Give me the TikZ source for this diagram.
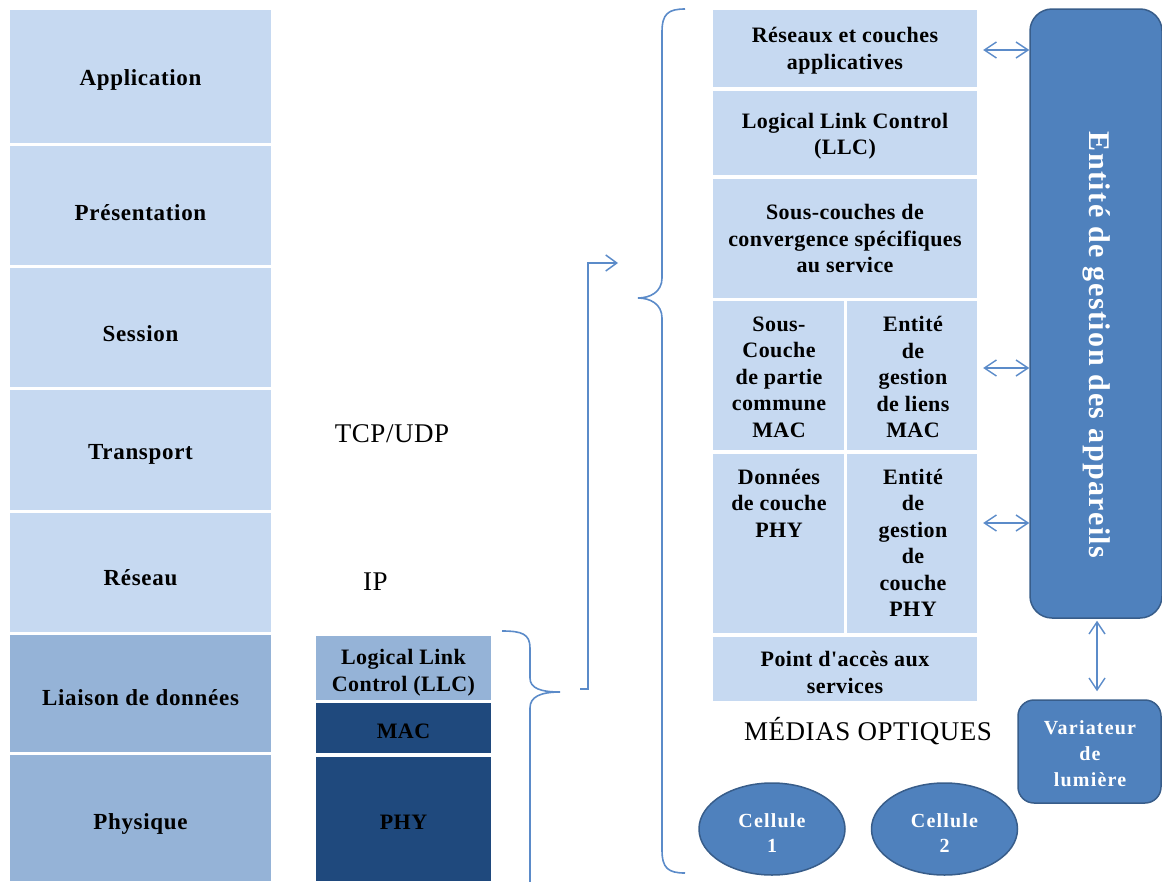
\documentclass[tikz,border=0pt]{standalone}
\usepackage{fontspec}
\setmainfont{Liberation Serif}
\newfontfamily\spfont[LetterSpace=6]{Liberation Serif}
\newfontfamily\spfontA[LetterSpace=3]{Liberation Serif}
\newfontfamily\spfontB[LetterSpace=2]{Liberation Serif}
\newfontfamily\spfontC[LetterSpace=5]{Liberation Serif}
\usetikzlibrary{shapes.geometric,arrows.meta}
\definecolor{lightb}{HTML}{C6D9F1}
\definecolor{midb}{HTML}{95B3D7}
\definecolor{darkb}{HTML}{1F497D}
\definecolor{boxb}{HTML}{4F81BD}
\definecolor{boxedge}{HTML}{385D8A}
\definecolor{linec}{HTML}{5B8BC9}
\begin{document}
\begin{tikzpicture}[x=1pt,y=-1pt,
  cellbox/.style={fill=lightb, draw=none, inner sep=0pt},
  ltext/.style={inner sep=0pt, align=center,
    font={\spfontA\bfseries\fontsize{23}{27}\selectfont}},
  rtext/.style={inner sep=0pt, align=center,
    font={\spfontB\bfseries\fontsize{22}{26.5}\selectfont}},
  bluebox/.style={fill=boxb, draw=boxedge, line width=1.5pt, inner sep=0pt,
    align=center, text=white, font={\spfont\bfseries\fontsize{20}{26}\selectfont}},
  plain/.style={inner sep=0pt, font={\spfontB\fontsize{27}{31}\selectfont}},
  dbl/.style={linec, line width=1.4pt,
    {Straight Barb[length=12pt,width=16pt]}-{Straight Barb[length=12pt,width=16pt]}},
  brace/.style={linec, line width=1.6pt}
]
\useasboundingbox (0,0) rectangle (1162,881);
\clip (0,0) rectangle (1162,881);
% left OSI column
\node[cellbox, minimum width=261pt, minimum height=133pt] (app) at (140.5,76.5) {};
\node[cellbox, minimum width=261pt, minimum height=119pt] (pres) at (140.5,205.5) {};
\node[cellbox, minimum width=261pt, minimum height=119pt] (sess) at (140.5,327.5) {};
\node[cellbox, minimum width=261pt, minimum height=120pt] (trans) at (140.5,450) {};
\node[cellbox, minimum width=261pt, minimum height=119pt] (res) at (140.5,572.5) {};
\node[cellbox, fill=midb, minimum width=261pt, minimum height=117pt] (liai) at (140.5,693.5) {};
\node[cellbox, fill=midb, minimum width=261pt, minimum height=126pt] (phys) at (140.5,818) {};
\node[ltext] (app-t) at (140.5,79.5) {Application};
\node[ltext] (pres-t) at (140.5,212.5) {Présentation};
\node[ltext] (sess-t) at (140.5,333.5) {Session};
\node[ltext] (trans-t) at (140.5,454.5) {Transport};
\node[ltext] (res-t) at (140.5,577.5) {Réseau};
\node[ltext] (liai-t) at (140.5,697.5) {Liaison de données};
\node[ltext] (phys-t) at (140.5,823.5) {Physique};
% middle column
\node[cellbox, fill=midb, minimum width=175pt, minimum height=64pt] (llc) at (403.5,668) {};
\node[cellbox, fill=darkb, minimum width=175pt, minimum height=50pt] (mac) at (403.5,728) {};
\node[cellbox, fill=darkb, minimum width=175pt, minimum height=124pt] (phy) at (403.5,819) {};
\node[rtext] (llc-t) at (403.5,672.5) {Logical Link\\Control (LLC)};
\node[rtext] (mac-t) at (403.5,731) {MAC};
\node[rtext] (phy-t) at (403.5,822) {PHY};
\node[plain] (tcp) at (392,434) {TCP/UDP};
\node[plain] (ip) at (375.5,582) {IP};
% right stack
\node[cellbox, minimum width=264pt, minimum height=77pt] (r1) at (845,48.5) {};
\node[cellbox, minimum width=264pt, minimum height=84pt] (r2) at (845,133) {};
\node[cellbox, minimum width=264pt, minimum height=119pt] (r3) at (845,238.5) {};
\node[cellbox, minimum width=131pt, minimum height=149pt] (r4a) at (778.5,375.5) {};
\node[cellbox, minimum width=130pt, minimum height=149pt] (r4b) at (912,375.5) {};
\node[cellbox, minimum width=131pt, minimum height=179pt] (r5a) at (778.5,543.5) {};
\node[cellbox, minimum width=130pt, minimum height=179pt] (r5b) at (912,543.5) {};
\node[cellbox, minimum width=264pt, minimum height=64pt] (r6) at (845,669) {};
\node[rtext] (r1-t) at (845,50.5) {Réseaux et couches\\applicatives};
\node[rtext] (r2-t) at (845,136) {Logical Link Control\\(LLC)};
\node[rtext] (r3-t) at (845,238.5) {Sous-couches de\\convergence spécifiques\\au service};
\node[rtext] (r4a-t) at (779,377) {Sous-\\Couche\\de partie\\commune\\MAC};
\node[rtext] (r4b-t) at (913,377) {Entité\\de\\gestion\\de liens\\MAC};
\node[rtext, anchor=north] (r5a-t) at (779,469) {Données\\de couche\\PHY};
\node[rtext, anchor=north] (r5b-t) at (913,469) {Entité\\de\\gestion\\de\\couche\\PHY};
\node[rtext] (r6-t) at (845,672.5) {Point d'accès aux\\services};
\node[plain] (med) at (868,731) {MÉDIAS OPTIQUES};
% management entity and dimmer
\node[bluebox, minimum width=132pt, minimum height=609pt, rounded corners=22pt] (ent) at (1096,313.5) {};
\node[rotate=-90, inner sep=0pt, text=white,
  font={\spfontC\bfseries\fontsize{30}{34}\selectfont}] (entt) at (1097,345) {Entité de gestion des appareils};
\node[bluebox, minimum width=143pt, minimum height=103pt, rounded corners=16pt] (var) at (1089.5,751.5) {};
\node[inner sep=0pt, align=center, text=white,
  font={\spfont\bfseries\fontsize{20}{26}\selectfont}] (var-t) at (1090,753.5) {Variateur\\de\\lumière};
% cells
\node[bluebox, ellipse, minimum width=146pt, minimum height=92pt] (c1) at (772,829) {};
\node[bluebox, ellipse, minimum width=146pt, minimum height=92pt] (c2) at (944.5,829) {};
\node[inner sep=0pt, align=center, text=white,
  font={\spfont\bfseries\fontsize{20}{25}\selectfont}] (c1-t) at (772,833.5) {Cellule\\1};
\node[inner sep=0pt, align=center, text=white,
  font={\spfont\bfseries\fontsize{20}{25}\selectfont}] (c2-t) at (944.5,833.5) {Cellule\\2};
% double arrows
\draw[dbl] ([xshift=6pt,yshift=-1.5pt]r1.east) -- ([yshift=-1.5pt]r1.east -| ent.west);
\draw[dbl] ([xshift=6pt,yshift=7.5pt]r4b.east) -- ([yshift=7.5pt]r4b.east -| ent.west);
\draw[dbl] ([xshift=6pt,yshift=20.5pt]r5b.east) -- ([yshift=20.5pt]r5b.east -| ent.west);
\draw[dbl] ([xshift=1pt,yshift=-2pt]ent.south) -- ([xshift=7.5pt,yshift=8pt]var.north);
% braces
\draw[brace] (685,9) .. controls (668,9) and (662,14) .. (662,32) -- (662,278)
  .. controls (662,292) and (650,298) .. (638,298)
  .. controls (650,298) and (662,304) .. (662,318) -- (662,850)
  .. controls (662,868) and (668,873) .. (685,873);
\draw[brace] (502,631) .. controls (522,631) and (530,634) .. (530,648) -- (530,678)
  .. controls (530,688) and (540,692) .. (560,692)
  .. controls (540,692) and (530,697) .. (530,708) -- (530,890);
% connector from small brace to big brace
\coordinate (sbtip) at (580,689);
\coordinate (bbtip) at (618,263);
\draw[linec, line width=1.5pt, -{Straight Barb[length=11pt,width=16pt]}]
  (sbtip) -- ++(8,0) |- (bbtip);
\end{tikzpicture}
\end{document}
